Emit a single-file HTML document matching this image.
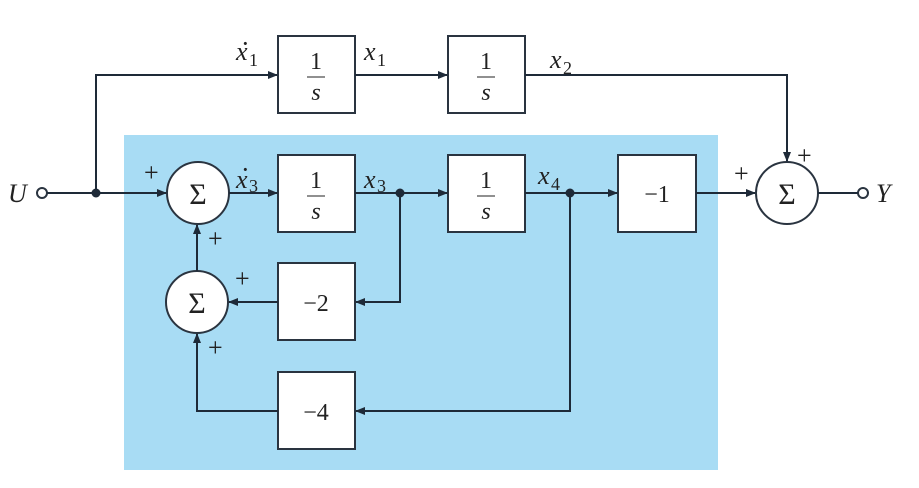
<!DOCTYPE html><html><head><style>body{margin:0;background:#fff}svg{display:block}text{font-family:"Liberation Serif",serif;fill:#222}</style></head><body>
<svg width="919" height="488" viewBox="0 0 919 488" xmlns="http://www.w3.org/2000/svg">
<defs><marker id="a" markerWidth="10" markerHeight="8" refX="9" refY="4" orient="auto" markerUnits="userSpaceOnUse"><path d="M0,0L10,4L0,8z" fill="#1e2a38"/></marker></defs>
<rect x="124" y="135" width="594" height="335" fill="#a8dcf4"/>
<g stroke="#2a3440" stroke-width="2" fill="#fff">
<rect x="278" y="36" width="77" height="77"/><rect x="448" y="36" width="77" height="77"/>
<rect x="278" y="155" width="77" height="77"/><rect x="448" y="155" width="77" height="77"/>
<rect x="618" y="155" width="78" height="77"/>
<rect x="278" y="263" width="77" height="77"/><rect x="278" y="372" width="77" height="77"/>
<circle cx="198" cy="193" r="31"/><circle cx="197" cy="302" r="31"/><circle cx="787" cy="193" r="31"/>
<circle cx="42" cy="193" r="5"/><circle cx="863" cy="193" r="5"/>
</g>
<g stroke="#1e2a38" stroke-width="2" fill="none">
<path d="M47,193H166" marker-end="url(#a)"/>
<path d="M96,193V75H277" marker-end="url(#a)"/>
<path d="M355,75H447" marker-end="url(#a)"/>
<path d="M525,75H787V161" marker-end="url(#a)"/>
<path d="M229,193H277" marker-end="url(#a)"/>
<path d="M355,193H447" marker-end="url(#a)"/>
<path d="M525,193H617" marker-end="url(#a)"/>
<path d="M696,193H755" marker-end="url(#a)"/>
<path d="M818,193H858"/>
<path d="M400,193V302H356" marker-end="url(#a)"/>
<path d="M278,302H229" marker-end="url(#a)"/>
<path d="M570,193V411H356" marker-end="url(#a)"/>
<path d="M278,411H197V334" marker-end="url(#a)"/>
<path d="M197,271V225" marker-end="url(#a)"/>
</g>
<g fill="#1e2a38"><circle cx="96" cy="193" r="4.5"/><circle cx="400" cy="193" r="4.5"/><circle cx="570" cy="193" r="4.5"/></g>
<g font-size="30" text-anchor="middle">
<text x="198" y="204">Σ</text><text x="197" y="313">Σ</text><text x="787" y="204">Σ</text>
</g>
<g font-size="24" text-anchor="middle">
<text x="316" y="69">1</text><text x="316" y="100" font-style="italic">s</text>
<text x="486" y="69">1</text><text x="486" y="100" font-style="italic">s</text>
<text x="316" y="188">1</text><text x="316" y="219" font-style="italic">s</text>
<text x="486" y="188">1</text><text x="486" y="219" font-style="italic">s</text>
<line x1="307" y1="77" x2="325" y2="77" stroke="#222"/><line x1="477" y1="77" x2="495" y2="77" stroke="#222"/>
<line x1="307" y1="196" x2="325" y2="196" stroke="#222"/><line x1="477" y1="196" x2="495" y2="196" stroke="#222"/>
<text x="657" y="202">−1</text><text x="316" y="311">−2</text><text x="316" y="420">−4</text>
</g>
<g font-size="26" font-style="italic">
<text x="8" y="202">U</text><text x="876" y="202">Y</text>
<text x="236" y="60">x</text><text x="364" y="60">x</text><text x="550" y="68">x</text>
<text x="236" y="188">x</text><text x="364" y="188">x</text><text x="538" y="184">x</text>
</g>
<g font-size="18">
<text x="249" y="66">1</text><text x="377" y="66">1</text><text x="563" y="74">2</text>
<text x="249" y="192">3</text><text x="377" y="192">3</text><text x="551" y="190">4</text>
</g>
<g font-size="26"><text x="241" y="52">·</text><text x="241" y="178">·</text></g>
<g font-size="26">
<text x="144" y="181">+</text><text x="208" y="247">+</text><text x="235" y="287">+</text>
<text x="208" y="356">+</text><text x="734" y="182">+</text><text x="797" y="164">+</text>
</g>
</svg></body></html>
